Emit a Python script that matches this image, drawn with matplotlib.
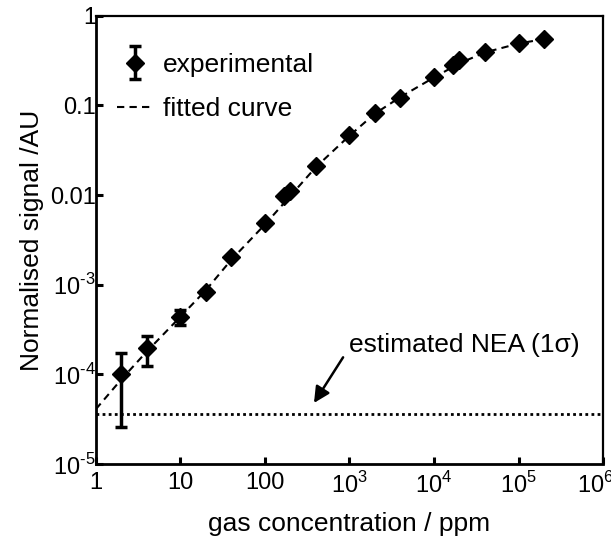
import matplotlib
matplotlib.use("Agg")
import matplotlib.pyplot as plt
from matplotlib.ticker import FixedLocator, FixedFormatter, NullLocator
from matplotlib.legend_handler import HandlerErrorbar
from matplotlib.transforms import ScaledTranslation

plt.rcParams['font.family'] = ['Liberation Sans', 'DejaVu Sans']
plt.rcParams['mathtext.fontset'] = 'custom'
plt.rcParams['mathtext.rm'] = 'Liberation Sans'

conc = [2, 4, 10, 20, 40, 100, 170, 200, 400, 1000, 2000, 4000,
        10000, 17000, 20000, 40000, 100000, 200000]
signal = [1.0e-4, 1.97e-4, 4.4e-4, 8.4e-4, 2.04e-3, 4.9e-3, 9.7e-3, 0.0112,
          0.0212, 0.047, 0.0827, 0.122, 0.2085, 0.285, 0.32, 0.397, 0.50, 0.554]
err_lo = [7.4e-5, 7.3e-5, 8e-5, 4e-5, 0, 0, 0, 0, 0, 0, 0, 0, 0, 0, 0, 0, 0, 0]
err_hi = [7.4e-5, 7.1e-5, 8e-5, 4e-5, 0, 0, 0, 0, 0, 0, 0, 0, 0, 0, 0, 0, 0, 0]

# fitted curve, sampled along the dashed line in the picture
fit_x = [1, 2, 4, 10, 20, 40, 100, 200, 400, 1000, 2000, 4000,
         10000, 20000, 40000, 100000, 200000]
fit_y = [4.1e-5, 8.8e-5, 1.8e-4, 4.4e-4, 8.7e-4, 1.9e-3, 4.7e-3, 9.8e-3, 0.0205,
         0.046, 0.081, 0.124, 0.205, 0.295, 0.39, 0.49, 0.55]

nea = 3.6e-5

fig = plt.figure(figsize=(6.11, 5.44), dpi=100)
ax = fig.add_axes([0.157, 0.147, 0.83, 0.824])

ax.plot(fit_x, fit_y, color='black', lw=1.5, ls=(0, (3.5, 2.5)), label='fitted curve')
ax.errorbar(conc, signal, yerr=[err_lo, err_hi], fmt='D', color='black', ms=9,
            elinewidth=2.5, capsize=4.5, capthick=2.5, label='experimental')
ax.axhline(nea, color='black', lw=2, ls=(0, (1, 1.2)))

ax.set_xscale('log')
ax.set_yscale('log')
ax.set_xlim(1, 1e6)
ax.set_ylim(1e-5, 1)

xt = [1, 10, 100, 1e3, 1e4, 1e5, 1e6]
xl = ['1', '10', '100', r'$10^3$', r'$10^4$', r'$10^5$', r'$10^6$']
yt = [1e-5, 1e-4, 1e-3, 0.01, 0.1, 1]
yl = [r'$10^{\text{-}5}$', r'$10^{\text{-}4}$', r'$10^{\text{-}3}$', '0.01', '0.1', '1']
ax.xaxis.set_major_locator(FixedLocator(xt))
ax.xaxis.set_major_formatter(FixedFormatter(xl))
ax.yaxis.set_major_locator(FixedLocator(yt))
ax.yaxis.set_major_formatter(FixedFormatter(yl))
ax.xaxis.set_minor_locator(NullLocator())
ax.yaxis.set_minor_locator(NullLocator())
ax.tick_params(direction='in', length=5, width=2.2, labelsize=17, top=False, right=False)
ax.tick_params(axis='x', pad=6)
ax.tick_params(axis='y', pad=0)
for s in ax.spines.values():
    s.set_linewidth(1.6)
ax.spines['left'].set_linewidth(2)
ax.spines['bottom'].set_linewidth(2)

# last x label sits a bit left so it stays mostly inside the figure
last = ax.xaxis.get_major_ticks()[-1].label1
last.set_transform(last.get_transform() + ScaledTranslation(-0.08, 0, fig.dpi_scale_trans))

ax.set_xlabel('gas concentration / ppm', fontsize=19, labelpad=10)
ax.set_ylabel('Normalised signal /AU', fontsize=19, labelpad=4)

# NEA label and its arrow
ax.text(1000, 2.1e-4, 'estimated NEA (1σ)', fontsize=19, va='center', ha='left')
ax.annotate('', xy=(380, 4.8e-5), xytext=(840, 1.55e-4),
            arrowprops=dict(arrowstyle='-|>', color='black', lw=1.8,
                            mutation_scale=24, shrinkA=0, shrinkB=0))

h, l = ax.get_legend_handles_labels()
ax.legend(h[::-1], l[::-1], loc='upper left', bbox_to_anchor=(0.041, 0.917),
          frameon=False, fontsize=19, handlelength=1.35, handletextpad=0.4,
          labelspacing=0.75, borderaxespad=0, borderpad=0,
          handler_map={type(h[1]): HandlerErrorbar(yerr_size=0.62)})

fig.savefig('out.png', dpi=100)
